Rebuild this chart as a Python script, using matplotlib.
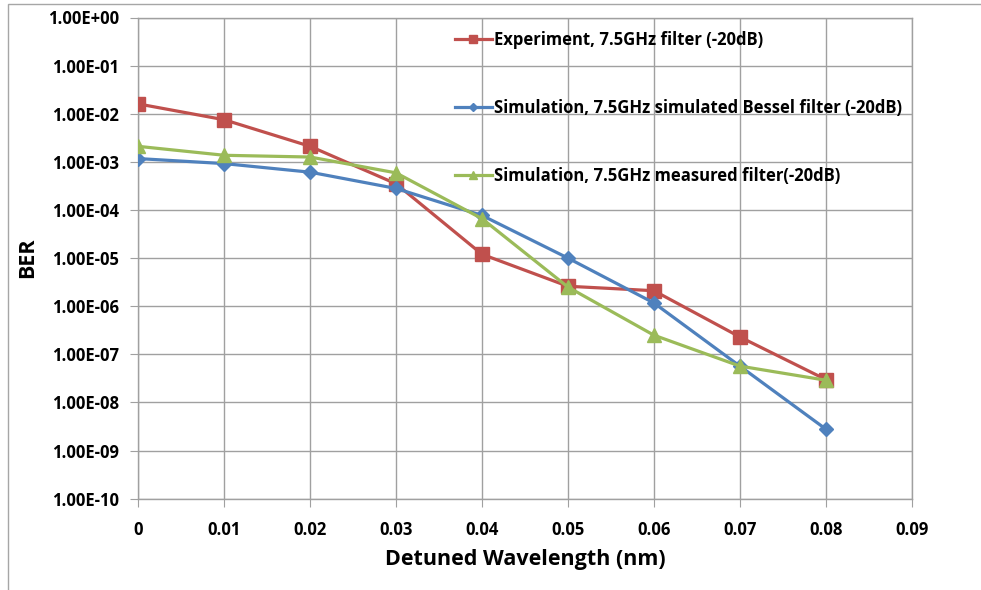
import matplotlib
matplotlib.use("Agg")
import matplotlib.pyplot as plt
from matplotlib.ticker import FuncFormatter, FixedLocator
from matplotlib.patches import Rectangle

detuning = [0.0, 0.01, 0.02, 0.03, 0.04, 0.05, 0.06, 0.07, 0.08]
ber_experiment = [1.6e-2, 7.5e-3, 2.1e-3, 3.5e-4, 1.2e-5, 2.6e-6, 2.1e-6, 2.3e-7, 3.0e-8]
ber_sim_bessel = [1.17e-3, 9.2e-4, 6.1e-4, 2.8e-4, 7.7e-5, 1.0e-5, 1.17e-6, 5.7e-8, 2.8e-9]
ber_sim_measured = [2.1e-3, 1.37e-3, 1.26e-3, 5.9e-4, 6.6e-5, 2.5e-6, 2.5e-7, 5.7e-8, 2.9e-8]

labels = ["Experiment, 7.5GHz filter (-20dB)",
          "Simulation, 7.5GHz simulated Bessel filter (-20dB)",
          "Simulation, 7.5GHz measured filter(-20dB)"]
xticks = [0, 0.01, 0.02, 0.03, 0.04, 0.05, 0.06, 0.07, 0.08, 0.09]
xticklabels = ["0", "0.01", "0.02", "0.03", "0.04", "0.05", "0.06", "0.07", "0.08", "0.09"]
yticks = [10.0 ** (-k) for k in range(0, 11)]

plt.rcParams['font.family'] = ['Open Sans', 'DejaVu Sans']
plt.rcParams['font.weight'] = 'bold'

fig = plt.figure(figsize=(9.81, 5.90), dpi=100)
fig.patches.append(Rectangle((8 / 981, -0.1), 1.2, (1 - 4 / 590) + 0.1,
                             transform=fig.transFigure, fill=False,
                             edgecolor='#a6a6a6', linewidth=1.0))
ax = fig.add_axes([138.3 / 981, 1 - 498.7 / 590, (911.7 - 138.3) / 981, (498.7 - 17.5) / 590])

red = '#C0504D'
blue = '#4F81BD'
green = '#9BBB59'
ax.plot(detuning, ber_experiment, color=red, lw=2.3, marker='s', ms=9.5, label=labels[0], zorder=3)
ax.plot(detuning, ber_sim_bessel, color=blue, lw=2.3, marker='D', ms=7.5, label=labels[1], zorder=4)
ax.plot(detuning, ber_sim_measured, color=green, lw=2.3, marker='^', ms=10, label=labels[2], zorder=5)

ax.set_yscale('log')
ax.set_ylim(1e-10, 1)
ax.set_xlim(0, 0.09)
ax.yaxis.set_major_locator(FixedLocator(yticks))
ax.yaxis.set_minor_locator(FixedLocator([]))
ax.yaxis.set_major_formatter(FuncFormatter(lambda v, p: f"{v:.2E}"))
ax.set_xticks(xticks)
ax.set_xticklabels(xticklabels)

ax.grid(True, which='major', color='#a0a0a0', linewidth=1.0)
ax.set_axisbelow(True)
for s in ax.spines.values():
    s.set_color('#a0a0a0')
    s.set_linewidth(1.0)
ax.tick_params(axis='both', which='major', direction='out', length=6, color='#a0a0a0',
               labelsize=12, labelcolor='black')
ax.tick_params(axis='y', pad=8)
ax.tick_params(axis='x', pad=10)
for t in ax.get_xticklabels() + ax.get_yticklabels():
    t.set_fontweight('bold')

ax.set_xlabel("Detuned Wavelength (nm)", fontsize=15.5, fontweight='bold', labelpad=7)
ax.set_ylabel("BER", fontsize=15.5, fontweight='bold', labelpad=7)

leg = ax.legend(loc='upper left', bbox_to_anchor=(455 / 981, 1 - 31 / 590),
                bbox_transform=fig.transFigure, frameon=False,
                prop={'size': 12.0, 'weight': 'bold'}, handlelength=2.2,
                handletextpad=0.12, labelspacing=3.0, borderpad=0, borderaxespad=0,
                markerscale=0.6)

fig.savefig("out.png", dpi=100)
